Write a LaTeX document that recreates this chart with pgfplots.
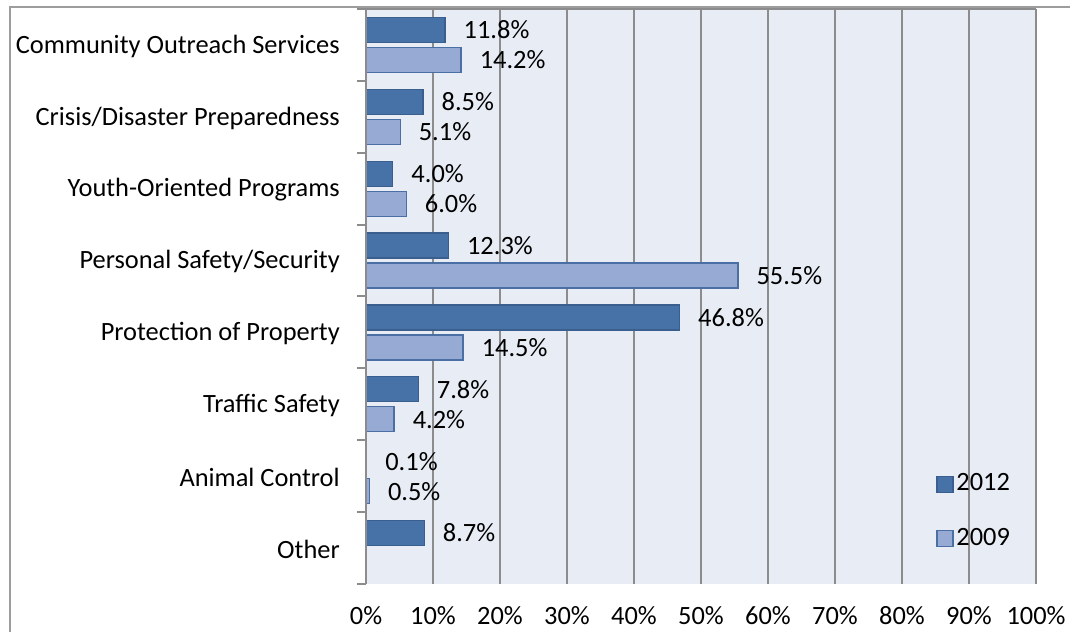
\documentclass[border=0pt]{standalone}
\usepackage{fontspec}
\setmainfont{Carlito}
\usepackage{pgfplots}
\pgfplotsset{compat=1.18}
\definecolor{bar12}{HTML}{4672A8}
\definecolor{bar12e}{HTML}{3A5F8F}
\definecolor{bar09}{HTML}{97AAD4}
\definecolor{bar09e}{HTML}{4A6FA5}
\definecolor{plotbg}{HTML}{E8ECF5}
\definecolor{gridc}{HTML}{8C8C8C}
\begin{document}
\fontsize{19.8}{24}\selectfont
\begin{tikzpicture}
\useasboundingbox (0pt,0pt) rectangle (802.5pt,474pt);
\draw[gridc!85, line width=1.5pt] (7.5pt,0pt) -- (7.5pt,468.75pt) -- (802.5pt,468.75pt);
\begin{axis}[
  at={(274.5pt,36pt)}, anchor=south west,
  scale only axis, width=502.5pt, height=431.25pt,
  xbar, bar width=18.75pt,
  xmin=0, xmax=100, ymin=-0.5, ymax=7.5,
  axis background/.style={fill=plotbg},
  axis line style={draw=none},
  xtick={0,10,...,100},
  xticklabel={\pgfmathprintnumber{\tick}\%},
  /pgf/number format/assume math mode=true,
  xmajorgrids, grid style={gridc, line width=1.5pt},
  xtick style={draw=none},
  ytick={0,...,7},
  yticklabels={Other, Animal Control, Traffic Safety, Protection of Property,
    Personal Safety/Security, Youth-Oriented Programs,
    Crisis/Disaster Preparedness, Community Outreach Services},
  minor ytick={-0.5,0.5,...,7.5},
  ytick pos=left,
  major tick length=0pt, minor tick length=6.75pt, tick align=outside,
  ytick style={gridc, line width=1.5pt},
  yticklabel style={anchor=east, inner sep=0pt, xshift=-19.5pt, yshift=-1pt},
  xticklabel style={anchor=north, inner sep=0pt, yshift=-17pt},
  nodes near coords={\pgfmathprintnumber[fixed,fixed zerofill,precision=1]{\pgfplotspointmeta}\%},
  nodes near coords align={horizontal},
  every node near coord/.append style={anchor=west, inner sep=0pt, xshift=13.5pt, text=black},
  legend image code/.code={\draw[#1] (0pt,-6pt) rectangle (12pt,6pt);},
  legend cell align=left,
  legend style={at={(rel axis cs:0.851,0.197)}, anchor=north west, draw=none,
    fill=none, inner sep=0pt, row sep=21pt, font=\fontsize{19.8}{24}\selectfont},
]
\addplot[fill=bar12, draw=bar12e, line width=1pt, bar shift=11.25pt]
  coordinates {(11.8,7) (8.5,6) (4.0,5) (12.3,4) (46.8,3) (7.8,2) (0.1,1) (8.7,0)};
\addlegendentry{2012}
\addplot[fill=bar09, draw=bar09e, line width=1pt, bar shift=-11.25pt]
  coordinates {(14.2,7) (5.1,6) (6.0,5) (55.5,4) (14.5,3) (4.2,2) (0.5,1)};
\addlegendentry{2009}
\draw[gridc, line width=1.5pt] (rel axis cs:0,0) -- (rel axis cs:0,1) -- (rel axis cs:1,1);
\end{axis}
\end{tikzpicture}
\end{document}
